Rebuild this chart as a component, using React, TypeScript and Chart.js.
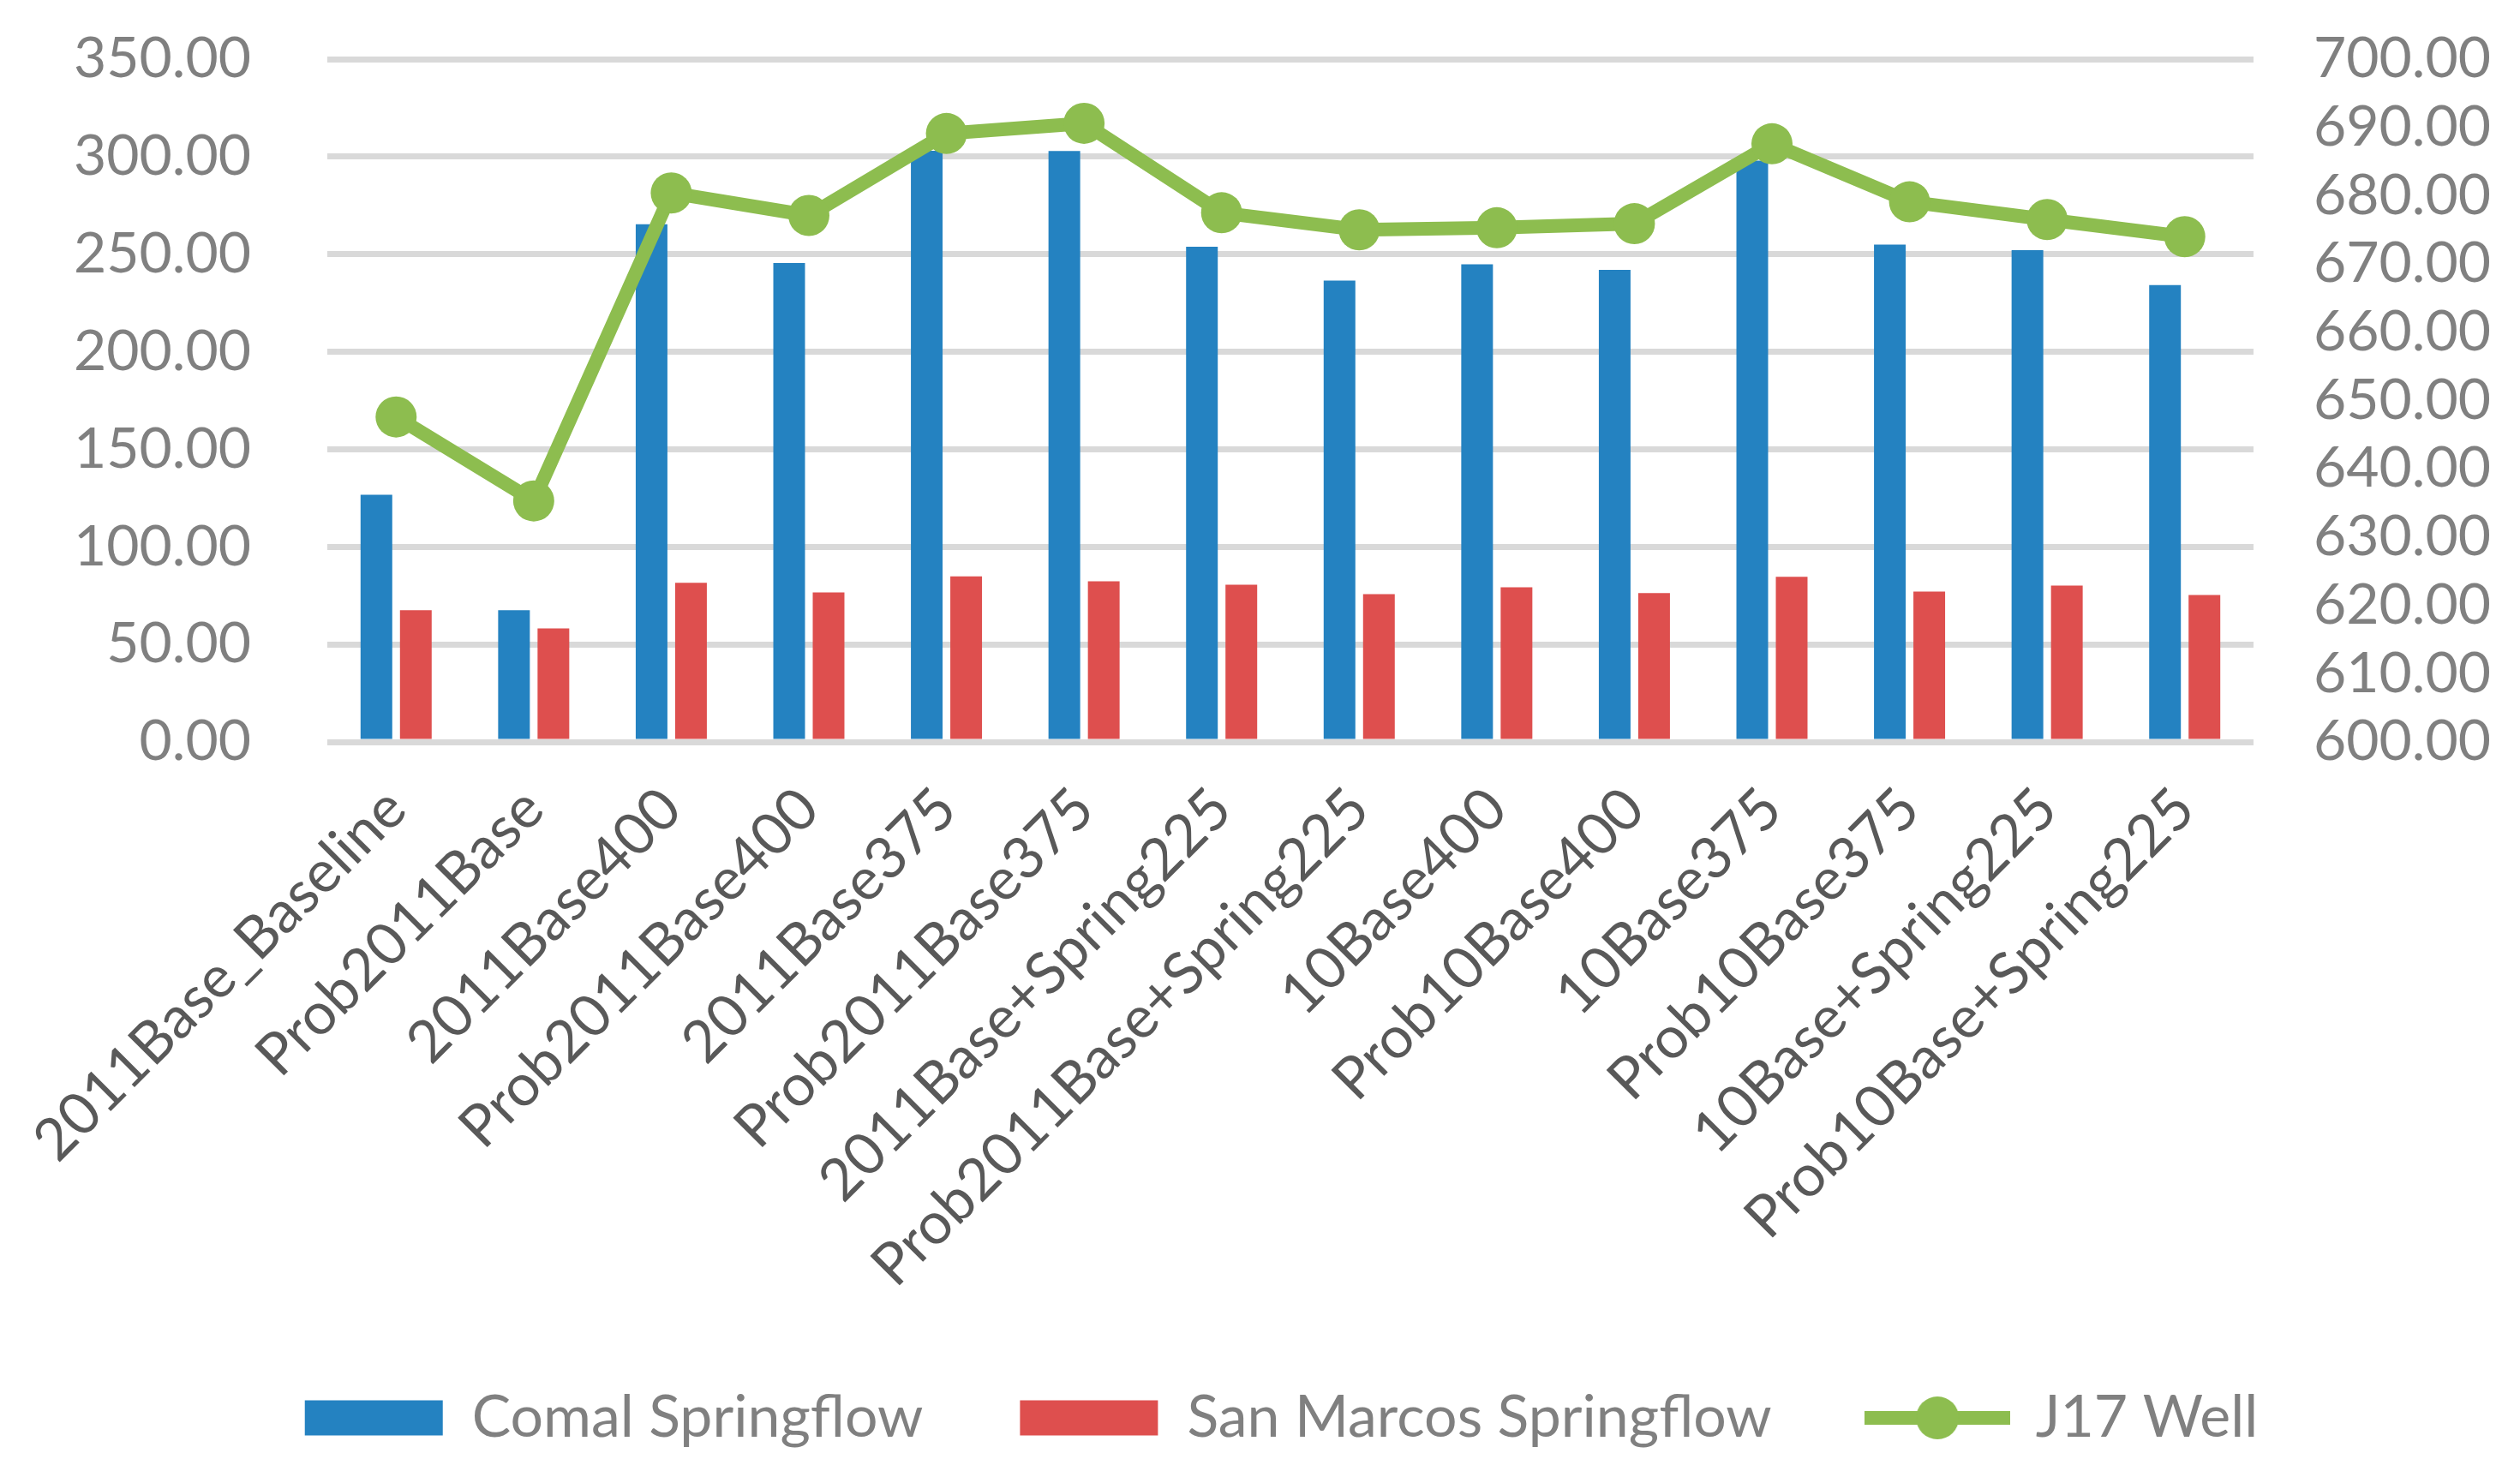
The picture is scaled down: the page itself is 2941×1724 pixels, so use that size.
import React, { useRef, useEffect } from 'react';
import { Chart, registerables } from 'chart.js';

Chart.register(...registerables);

const scenarios = [
  '2011Base_Baseline',
  'Prob2011Base',
  '2011Base400',
  'Prob2011Base400',
  '2011Base375',
  'Prob2011Base375',
  '2011Base+Spring225',
  'Prob2011Base+Spring225',
  '10Base400',
  'Prob10Base400',
  '10Base375',
  'Prob10Base375',
  '10Base+Spring225',
  'Prob10Base+Spring225',
];

const comalFlow = [126.7, 67.5, 265.4, 245.5, 303.0, 302.9, 253.8, 236.5, 244.8, 242.0, 298.0, 254.9, 252.1, 234.2];
const sanMarcosFlow = [67.5, 58.2, 81.6, 76.6, 84.9, 82.3, 80.6, 75.8, 79.3, 76.3, 84.6, 77.1, 80.1, 75.3];
const j17Well = [647.6, 635.3, 680.4, 677.1, 689.1, 690.6, 677.5, 675.0, 675.3, 675.9, 687.6, 679.1, 676.5, 674.0];

const BLUE = '#2482c1';
const RED = '#de4f4e';
const GREEN = '#8dbd4f';
const FONT = 'Lato';
const CLEAR = 'rgba(0,0,0,0)';

const W = 2941;
const H = 1724;

// legend symbol for the line series: a short thick line with a dot on it
function lineSymbol(): HTMLCanvasElement {
  const c = document.createElement('canvas');
  c.width = 170;
  c.height = 52;
  const g = c.getContext('2d');
  if (g) {
    g.fillStyle = GREEN;
    g.fillRect(0, 18, 170, 16);
    g.beginPath();
    g.arc(85, 26, 25, 0, Math.PI * 2);
    g.fill();
  }
  return c;
}

const App: React.FC = () => {
  const canvasRef = useRef<HTMLCanvasElement>(null);
  const chartRef = useRef<Chart | null>(null);

  useEffect(() => {
    document.body.style.margin = '0';
    if (!canvasRef.current) return;
    const ctx = canvasRef.current.getContext('2d');
    if (!ctx) return;
    if (chartRef.current) chartRef.current.destroy();

    const symbol = lineSymbol();

    chartRef.current = new Chart(ctx, {
      type: 'bar',
      data: {
        labels: scenarios,
        datasets: [
          {
            type: 'bar',
            label: 'Comal Springflow',
            data: comalFlow,
            backgroundColor: BLUE,
            borderWidth: 0,
            yAxisID: 'y',
            categoryPercentage: 0.573,
            barPercentage: 0.804,
            order: 1,
          },
          {
            type: 'bar',
            label: 'San Marcos Springflow',
            data: sanMarcosFlow,
            backgroundColor: RED,
            borderWidth: 0,
            yAxisID: 'y',
            categoryPercentage: 0.573,
            barPercentage: 0.804,
            order: 1,
          },
          {
            type: 'line',
            label: 'J17 Well',
            data: j17Well,
            borderColor: GREEN,
            backgroundColor: GREEN,
            borderWidth: 16,
            pointRadius: 24,
            pointBorderWidth: 0,
            pointBackgroundColor: GREEN,
            tension: 0,
            yAxisID: 'y1',
            order: 0,
          },
        ],
      },
      options: {
        responsive: false,
        animation: false,
        devicePixelRatio: 1,
        // left padding nudges the centred legend to the right; the y axis width makes up for it
        layout: { padding: { top: 69, left: 50, right: 0, bottom: 25 } },
        plugins: {
          tooltip: { enabled: false },
          legend: {
            position: 'bottom',
            labels: {
              usePointStyle: true,
              pointStyleWidth: 161,
              boxHeight: 41,
              padding: 113,
              color: '#808080',
              font: { family: FONT, size: 68 },
              generateLabels: (chart) => {
                const items = Chart.defaults.plugins.legend.labels.generateLabels(chart);
                return items
                  .map((it) => {
                    if (it.datasetIndex === 2) {
                      return { ...it, pointStyle: symbol, lineWidth: 0 };
                    }
                    return { ...it, pointStyle: 'rect', lineWidth: 0 };
                  })
                  .sort((a, b) => (a.datasetIndex ?? 0) - (b.datasetIndex ?? 0));
              },
            },
          },
        },
        scales: {
          x: {
            grid: { display: false },
            border: { display: false },
            ticks: {
              autoSkip: false,
              minRotation: 45,
              maxRotation: 45,
              padding: 30,
              color: '#595959',
              font: { family: FONT, size: 68 },
            },
            afterFit: (scale) => {
              scale.height = 642;
            },
          },
          y: {
            position: 'left',
            min: 0,
            max: 350,
            // tick marks are invisible; their length spaces the labels from the plot
            grid: { color: '#d9d9d9', lineWidth: 7, drawTicks: true, tickLength: 89, tickColor: CLEAR },
            border: { display: false },
            ticks: {
              stepSize: 50,
              padding: 0,
              autoSkip: false,
              color: '#808080',
              font: { family: FONT, size: 66 },
              callback: (v) => Number(v).toFixed(2),
            },
            afterFit: (scale) => {
              scale.width = 332;
            },
          },
          y1: {
            position: 'right',
            min: 600,
            max: 700,
            grid: { drawOnChartArea: false, color: CLEAR, drawTicks: true, tickLength: 70, tickColor: CLEAR },
            border: { display: false },
            ticks: {
              stepSize: 10,
              padding: 0,
              autoSkip: false,
              color: '#808080',
              font: { family: FONT, size: 66 },
              callback: (v) => Number(v).toFixed(2),
            },
            afterFit: (scale) => {
              scale.width = W - 2630;
            },
          },
        },
      },
    });

    return () => {
      if (chartRef.current) {
        chartRef.current.destroy();
        chartRef.current = null;
      }
    };
  }, []);

  return (
    <div style={{ width: W, height: H, background: '#ffffff' }}>
      <canvas ref={canvasRef} width={W} height={H} style={{ display: 'block' }} />
    </div>
  );
};

export default App;
